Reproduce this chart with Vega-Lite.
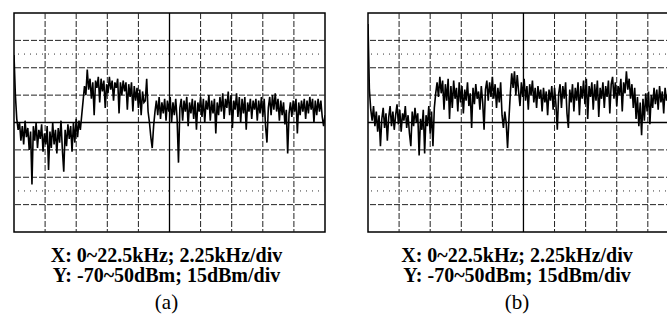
{
  "$schema": "https://vega.github.io/schema/vega-lite/v6.json",
  "padding": {"left": 12, "top": 11, "right": 0, "bottom": 0},
  "spacing": 39,
  "background": "white",
  "config": {
    "view": {"stroke": "black", "strokeWidth": 1.5},
    "title": {"orient": "bottom", "anchor": "middle", "font": "Liberation Serif", "fontSize": 20, "fontWeight": "bold", "color": "black", "lineHeight": 20, "offset": 13, "subtitleFont": "Liberation Serif", "subtitleFontSize": 21, "subtitleFontWeight": "normal", "subtitleColor": "black", "subtitlePadding": 6}
  },
  "datasets": {
    "gx": [{"g":2.25},{"g":4.5},{"g":6.75},{"g":9},{"g":13.5},{"g":15.75},{"g":18},{"g":20.25}],
    "gy": [{"g":-55},{"g":-40},{"g":-25},{"g":5},{"g":20},{"g":35}],
    "gd": [{"g":27.5},{"g":-47.5}],
    "a": [
      {"f":0.0,"v":27},{"f":0.1,"v":5},{"f":0.2,"v":-8},{"f":0.3,"v":-14},{"f":0.4,"v":-10},{"f":0.5,"v":-20},{"f":0.6,"v":-12},{"f":0.7,"v":-22},{"f":0.8,"v":-9},{"f":0.9,"v":-18},
      {"f":1.0,"v":-13},{"f":1.1,"v":-25},{"f":1.2,"v":-15},{"f":1.3,"v":-44},{"f":1.4,"v":-12},{"f":1.5,"v":-20},{"f":1.6,"v":-10},{"f":1.7,"v":-24},{"f":1.8,"v":-14},{"f":1.9,"v":-19},
      {"f":2.0,"v":-11},{"f":2.1,"v":-26},{"f":2.2,"v":-16},{"f":2.3,"v":-22},{"f":2.4,"v":-12},{"f":2.5,"v":-36},{"f":2.6,"v":-15},{"f":2.7,"v":-24},{"f":2.8,"v":-10},{"f":2.9,"v":-22},
      {"f":3.0,"v":-14},{"f":3.1,"v":-27},{"f":3.2,"v":-13},{"f":3.3,"v":-21},{"f":3.4,"v":-9},{"f":3.5,"v":-25},{"f":3.6,"v":-37},{"f":3.7,"v":-14},{"f":3.8,"v":-23},{"f":3.9,"v":-11},
      {"f":4.0,"v":-19},{"f":4.1,"v":-12},{"f":4.2,"v":-26},{"f":4.3,"v":-10},{"f":4.4,"v":-21},{"f":4.5,"v":-8},{"f":4.6,"v":-18},{"f":4.7,"v":-9},{"f":4.8,"v":-14},{"f":4.9,"v":-6},
      {"f":5.0,"v":2},{"f":5.1,"v":10},{"f":5.2,"v":5},{"f":5.3,"v":19},{"f":5.4,"v":8},{"f":5.5,"v":14},{"f":5.6,"v":3},{"f":5.7,"v":12},{"f":5.8,"v":-6},{"f":5.9,"v":13},
      {"f":6.0,"v":9},{"f":6.1,"v":15},{"f":6.2,"v":1},{"f":6.3,"v":14},{"f":6.4,"v":7},{"f":6.5,"v":13},{"f":6.6,"v":-2},{"f":6.7,"v":11},{"f":6.8,"v":6},{"f":6.9,"v":15},
      {"f":7.0,"v":8},{"f":7.1,"v":13},{"f":7.2,"v":2},{"f":7.3,"v":12},{"f":7.4,"v":9},{"f":7.5,"v":14},{"f":7.6,"v":-5},{"f":7.7,"v":12},{"f":7.8,"v":5},{"f":7.9,"v":13},
      {"f":8.0,"v":7},{"f":8.1,"v":12},{"f":8.2,"v":-3},{"f":8.3,"v":11},{"f":8.4,"v":4},{"f":8.5,"v":12},{"f":8.6,"v":-4},{"f":8.7,"v":10},{"f":8.8,"v":2},{"f":8.9,"v":9},
      {"f":9.0,"v":-2},{"f":9.1,"v":8},{"f":9.2,"v":-6},{"f":9.3,"v":7},{"f":9.4,"v":1},{"f":9.5,"v":2},{"f":9.6,"v":14},{"f":9.7,"v":-4},{"f":9.8,"v":-10},{"f":9.9,"v":-18},
      {"f":10.0,"v":-24},{"f":10.1,"v":-12},{"f":10.2,"v":-4},{"f":10.3,"v":2},{"f":10.4,"v":-6},{"f":10.5,"v":4},{"f":10.6,"v":-8},{"f":10.7,"v":1},{"f":10.8,"v":-5},{"f":10.9,"v":3},
      {"f":11.0,"v":-9},{"f":11.1,"v":2},{"f":11.2,"v":-4},{"f":11.3,"v":4},{"f":11.4,"v":-10},{"f":11.5,"v":1},{"f":11.6,"v":-6},{"f":11.7,"v":3},{"f":11.8,"v":-8},{"f":11.9,"v":-32},
      {"f":12.0,"v":-2},{"f":12.1,"v":3},{"f":12.2,"v":-9},{"f":12.3,"v":2},{"f":12.4,"v":-4},{"f":12.5,"v":4},{"f":12.6,"v":-12},{"f":12.7,"v":1},{"f":12.8,"v":-5},{"f":12.9,"v":3},
      {"f":13.0,"v":-8},{"f":13.1,"v":2},{"f":13.2,"v":-14},{"f":13.3,"v":1},{"f":13.4,"v":-4},{"f":13.5,"v":4},{"f":13.6,"v":-7},{"f":13.7,"v":3},{"f":13.8,"v":-10},{"f":13.9,"v":2},
      {"f":14.0,"v":-3},{"f":14.1,"v":5},{"f":14.2,"v":-9},{"f":14.3,"v":2},{"f":14.4,"v":-5},{"f":14.5,"v":3},{"f":14.6,"v":-16},{"f":14.7,"v":1},{"f":14.8,"v":-6},{"f":14.9,"v":4},
      {"f":15.0,"v":-4},{"f":15.1,"v":6},{"f":15.2,"v":-8},{"f":15.3,"v":3},{"f":15.4,"v":-2},{"f":15.5,"v":7},{"f":15.6,"v":-6},{"f":15.7,"v":5},{"f":15.8,"v":-13},{"f":15.9,"v":2},
      {"f":16.0,"v":-3},{"f":16.1,"v":6},{"f":16.2,"v":-7},{"f":16.3,"v":4},{"f":16.4,"v":-10},{"f":16.5,"v":3},{"f":16.6,"v":-5},{"f":16.7,"v":4},{"f":16.8,"v":-14},{"f":16.9,"v":1},
      {"f":17.0,"v":-4},{"f":17.1,"v":3},{"f":17.2,"v":-8},{"f":17.3,"v":2},{"f":17.4,"v":-3},{"f":17.5,"v":3},{"f":17.6,"v":-9},{"f":17.7,"v":2},{"f":17.8,"v":-5},{"f":17.9,"v":4},
      {"f":18.0,"v":-7},{"f":18.1,"v":3},{"f":18.2,"v":-12},{"f":18.3,"v":-21},{"f":18.4,"v":-2},{"f":18.5,"v":4},{"f":18.6,"v":-6},{"f":18.7,"v":5},{"f":18.8,"v":-3},{"f":18.9,"v":6},
      {"f":19.0,"v":-4},{"f":19.1,"v":3},{"f":19.2,"v":-9},{"f":19.3,"v":2},{"f":19.4,"v":-6},{"f":19.5,"v":1},{"f":19.6,"v":-11},{"f":19.7,"v":-3},{"f":19.8,"v":-27},{"f":19.9,"v":-5},
      {"f":20.0,"v":1},{"f":20.1,"v":-7},{"f":20.2,"v":2},{"f":20.3,"v":-4},{"f":20.4,"v":3},{"f":20.5,"v":-16},{"f":20.6,"v":1},{"f":20.7,"v":-6},{"f":20.8,"v":2},{"f":20.9,"v":-4},
      {"f":21.0,"v":3},{"f":21.1,"v":-8},{"f":21.2,"v":2},{"f":21.3,"v":-5},{"f":21.4,"v":4},{"f":21.5,"v":-3},{"f":21.6,"v":3},{"f":21.7,"v":-10},{"f":21.8,"v":2},{"f":21.9,"v":-6},
      {"f":22.0,"v":3},{"f":22.1,"v":-4},{"f":22.2,"v":2},{"f":22.3,"v":-7},{"f":22.4,"v":-12},{"f":22.5,"v":-6}
    ],
    "b": [
      {"f":0.0,"v":44},{"f":0.1,"v":8},{"f":0.2,"v":-3},{"f":0.3,"v":-9},{"f":0.4,"v":-1},{"f":0.5,"v":-12},{"f":0.6,"v":-4},{"f":0.7,"v":-15},{"f":0.8,"v":-6},{"f":0.9,"v":-23},
      {"f":1.0,"v":-8},{"f":1.1,"v":-2},{"f":1.2,"v":-13},{"f":1.3,"v":-5},{"f":1.4,"v":-20},{"f":1.5,"v":-7},{"f":1.6,"v":-1},{"f":1.7,"v":-12},{"f":1.8,"v":-4},{"f":1.9,"v":-14},
      {"f":2.0,"v":-6},{"f":2.1,"v":0},{"f":2.2,"v":-11},{"f":2.3,"v":-3},{"f":2.4,"v":-15},{"f":2.5,"v":-5},{"f":2.6,"v":-9},{"f":2.7,"v":-1},{"f":2.8,"v":-13},{"f":2.9,"v":-6},
      {"f":3.0,"v":-16},{"f":3.1,"v":-23},{"f":3.2,"v":-4},{"f":3.3,"v":-12},{"f":3.4,"v":-2},{"f":3.5,"v":-10},{"f":3.6,"v":-5},{"f":3.7,"v":-28},{"f":3.8,"v":-8},{"f":3.9,"v":-14},
      {"f":4.0,"v":-3},{"f":4.1,"v":-27},{"f":4.2,"v":-6},{"f":4.3,"v":-12},{"f":4.4,"v":-1},{"f":4.5,"v":-16},{"f":4.6,"v":-4},{"f":4.7,"v":-23},{"f":4.8,"v":-2},{"f":4.9,"v":6},
      {"f":5.0,"v":12},{"f":5.1,"v":4},{"f":5.2,"v":15},{"f":5.3,"v":6},{"f":5.4,"v":13},{"f":5.5,"v":-3},{"f":5.6,"v":11},{"f":5.7,"v":2},{"f":5.8,"v":14},{"f":5.9,"v":-8},
      {"f":6.0,"v":10},{"f":6.1,"v":-2},{"f":6.2,"v":13},{"f":6.3,"v":3},{"f":6.4,"v":9},{"f":6.5,"v":-4},{"f":6.6,"v":12},{"f":6.7,"v":1},{"f":6.8,"v":10},{"f":6.9,"v":-5},
      {"f":7.0,"v":8},{"f":7.1,"v":2},{"f":7.2,"v":12},{"f":7.3,"v":-1},{"f":7.4,"v":6},{"f":7.5,"v":-13},{"f":7.6,"v":9},{"f":7.7,"v":0},{"f":7.8,"v":11},{"f":7.9,"v":3},
      {"f":8.0,"v":7},{"f":8.1,"v":-3},{"f":8.2,"v":10},{"f":8.3,"v":1},{"f":8.4,"v":-14},{"f":8.5,"v":8},{"f":8.6,"v":13},{"f":8.7,"v":2},{"f":8.8,"v":12},{"f":8.9,"v":4},
      {"f":9.0,"v":15},{"f":9.1,"v":3},{"f":9.2,"v":11},{"f":9.3,"v":-2},{"f":9.4,"v":9},{"f":9.5,"v":1},{"f":9.6,"v":12},{"f":9.7,"v":-6},{"f":9.8,"v":-13},{"f":9.9,"v":-4},
      {"f":10.0,"v":-10},{"f":10.1,"v":-24},{"f":10.2,"v":-8},{"f":10.3,"v":6},{"f":10.4,"v":17},{"f":10.5,"v":9},{"f":10.6,"v":18},{"f":10.7,"v":5},{"f":10.8,"v":16},{"f":10.9,"v":7},
      {"f":11.0,"v":-1},{"f":11.1,"v":12},{"f":11.2,"v":4},{"f":11.3,"v":14},{"f":11.4,"v":2},{"f":11.5,"v":10},{"f":11.6,"v":-3},{"f":11.7,"v":11},{"f":11.8,"v":5},{"f":11.9,"v":13},
      {"f":12.0,"v":1},{"f":12.1,"v":9},{"f":12.2,"v":-2},{"f":12.3,"v":10},{"f":12.4,"v":3},{"f":12.5,"v":8},{"f":12.6,"v":-4},{"f":12.7,"v":9},{"f":12.8,"v":1},{"f":12.9,"v":7},
      {"f":13.0,"v":-6},{"f":13.1,"v":8},{"f":13.2,"v":2},{"f":13.3,"v":10},{"f":13.4,"v":-3},{"f":13.5,"v":9},{"f":13.6,"v":0},{"f":13.7,"v":-14},{"f":13.8,"v":6},{"f":13.9,"v":11},
      {"f":14.0,"v":-2},{"f":14.1,"v":10},{"f":14.2,"v":3},{"f":14.3,"v":12},{"f":14.4,"v":-5},{"f":14.5,"v":-13},{"f":14.6,"v":8},{"f":14.7,"v":1},{"f":14.8,"v":11},{"f":14.9,"v":-4},
      {"f":15.0,"v":9},{"f":15.1,"v":2},{"f":15.2,"v":12},{"f":15.3,"v":-6},{"f":15.4,"v":10},{"f":15.5,"v":3},{"f":15.6,"v":13},{"f":15.7,"v":0},{"f":15.8,"v":14},{"f":15.9,"v":-8},
      {"f":16.0,"v":10},{"f":16.1,"v":4},{"f":16.2,"v":12},{"f":16.3,"v":-3},{"f":16.4,"v":11},{"f":16.5,"v":2},{"f":16.6,"v":13},{"f":16.7,"v":-7},{"f":16.8,"v":9},{"f":16.9,"v":3},
      {"f":17.0,"v":12},{"f":17.1,"v":-2},{"f":17.2,"v":10},{"f":17.3,"v":4},{"f":17.4,"v":13},{"f":17.5,"v":-5},{"f":17.6,"v":11},{"f":17.7,"v":15},{"f":17.8,"v":3},{"f":17.9,"v":12},
      {"f":18.0,"v":-1},{"f":18.1,"v":10},{"f":18.2,"v":5},{"f":18.3,"v":14},{"f":18.4,"v":-4},{"f":18.5,"v":12},{"f":18.6,"v":6},{"f":18.7,"v":18},{"f":18.8,"v":8},{"f":18.9,"v":14},
      {"f":19.0,"v":3},{"f":19.1,"v":11},{"f":19.2,"v":-2},{"f":19.3,"v":9},{"f":19.4,"v":-8},{"f":19.5,"v":4},{"f":19.6,"v":-12},{"f":19.7,"v":1},{"f":19.8,"v":-17},{"f":19.9,"v":3},
      {"f":20.0,"v":-9},{"f":20.1,"v":6},{"f":20.2,"v":-4},{"f":20.3,"v":7},{"f":20.4,"v":-11},{"f":20.5,"v":5},{"f":20.6,"v":-2},{"f":20.7,"v":9},{"f":20.8,"v":0},{"f":20.9,"v":8},
      {"f":21.0,"v":-3},{"f":21.1,"v":10},{"f":21.2,"v":1},{"f":21.3,"v":7},{"f":21.4,"v":-5},{"f":21.5,"v":9},{"f":21.6,"v":2},{"f":21.7,"v":6},{"f":21.8,"v":-4},{"f":21.9,"v":8},
      {"f":22.0,"v":0},{"f":22.1,"v":5},{"f":22.2,"v":-3},{"f":22.3,"v":7},{"f":22.4,"v":1},{"f":22.5,"v":4}
    ]
  },
  "hconcat": [
    {
      "width": 311, "height": 219,
      "title": {"text": ["X: 0~22.5kHz; 2.25kHz/div", "Y: -70~50dBm; 15dBm/div"], "subtitle": "(a)", "dx": -3},
      "layer": [
        {"data": {"name": "gx"}, "mark": {"type": "rule", "color": "#222", "strokeWidth": 1, "strokeDash": [6, 2]},
          "encoding": {"x": {"field": "g", "type": "quantitative", "scale": {"domain": [0, 22.5], "nice": false, "zero": false}, "axis": null}}},
        {"data": {"name": "gy"}, "mark": {"type": "rule", "color": "#222", "strokeWidth": 1, "strokeDash": [6, 2]},
          "encoding": {"y": {"field": "g", "type": "quantitative", "scale": {"domain": [-70, 50], "nice": false, "zero": false}, "axis": null}}},
        {"data": {"name": "gd"}, "mark": {"type": "rule", "color": "#333", "strokeWidth": 1, "strokeDash": [1, 5]},
          "encoding": {"y": {"field": "g", "type": "quantitative", "axis": null}}},
        {"data": {"name": "a"}, "mark": {"type": "line", "color": "black", "strokeWidth": 1.6, "clip": true},
          "encoding": {
            "x": {"field": "f", "type": "quantitative", "axis": null},
            "y": {"field": "v", "type": "quantitative", "axis": null}
          }},
        {"data": {"values": [{}]}, "mark": {"type": "rule", "color": "black", "strokeWidth": 1.3}, "encoding": {"x": {"datum": 11.25, "type": "quantitative", "axis": null}}},
        {"data": {"values": [{}]}, "mark": {"type": "rule", "color": "black", "strokeWidth": 1.3}, "encoding": {"y": {"datum": -10, "type": "quantitative", "axis": null}}}
      ]
    },
    {
      "width": 304, "height": 219,
      "title": {"text": ["X: 0~22.5kHz; 2.25kHz/div", "Y: -70~50dBm; 15dBm/div"], "subtitle": "(b)", "dx": -3},
      "layer": [
        {"data": {"name": "gx"}, "mark": {"type": "rule", "color": "#222", "strokeWidth": 1, "strokeDash": [6, 2]},
          "encoding": {"x": {"field": "g", "type": "quantitative", "scale": {"domain": [0, 22.0], "nice": false, "zero": false}, "axis": null}}},
        {"data": {"name": "gy"}, "mark": {"type": "rule", "color": "#222", "strokeWidth": 1, "strokeDash": [6, 2]},
          "encoding": {"y": {"field": "g", "type": "quantitative", "scale": {"domain": [-70, 50], "nice": false, "zero": false}, "axis": null}}},
        {"data": {"name": "gd"}, "mark": {"type": "rule", "color": "#333", "strokeWidth": 1, "strokeDash": [1, 5]},
          "encoding": {"y": {"field": "g", "type": "quantitative", "axis": null}}},
        {"data": {"name": "b"}, "mark": {"type": "line", "color": "black", "strokeWidth": 1.6, "clip": true},
          "encoding": {
            "x": {"field": "f", "type": "quantitative", "axis": null},
            "y": {"field": "v", "type": "quantitative", "axis": null}
          }},
        {"data": {"values": [{}]}, "mark": {"type": "rule", "color": "black", "strokeWidth": 1.3}, "encoding": {"x": {"datum": 11.25, "type": "quantitative", "axis": null}}},
        {"data": {"values": [{}]}, "mark": {"type": "rule", "color": "black", "strokeWidth": 1.3}, "encoding": {"y": {"datum": -10, "type": "quantitative", "axis": null}}}
      ]
    }
  ]
}
